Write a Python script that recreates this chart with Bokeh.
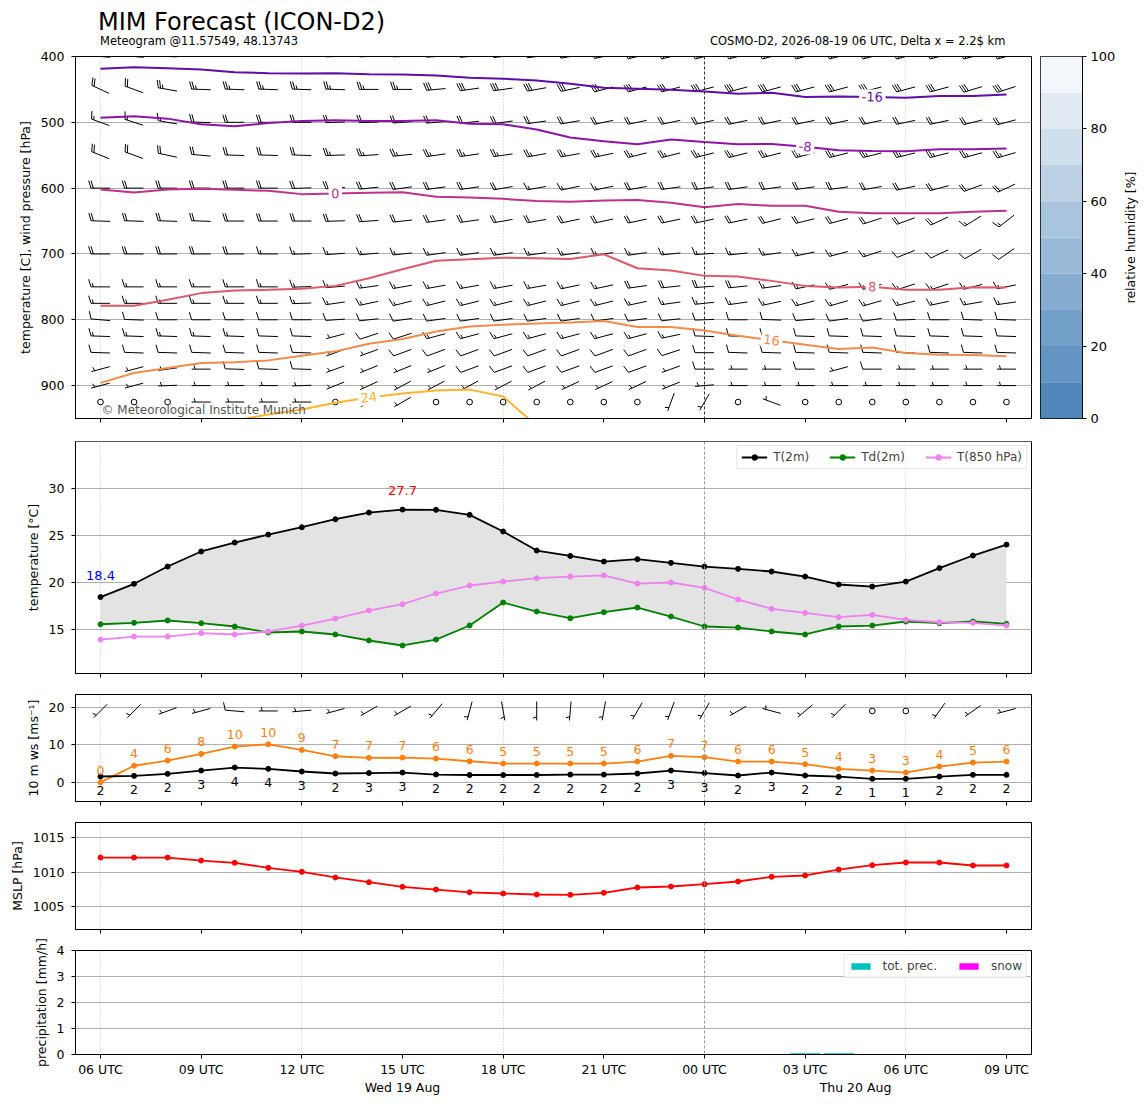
import math
import numpy as np
from bokeh.plotting import figure
from bokeh.layouts import column, row
from bokeh.models import (Range1d, FixedTicker, Div, Legend, LegendItem, LinearAxis,
                          ColumnDataSource, LabelSet, Label, Span)
from bokeh.core.properties import value
from bokeh.embed import file_html
from bokeh.resources import INLINE

FONT = "DejaVu Sans"

# ---------------- data ----------------
hours = [0, 1, 2, 3, 4, 5, 6, 7, 8, 9, 10, 11, 12, 13, 14, 15, 16, 17, 18, 19,
         20, 21, 22, 23, 24, 25, 26, 27]   # hours since 19 Aug 06 UTC
tick_hours = [0, 3, 6, 9, 12, 15, 18, 21, 24, 27]
tick_labels = ["06 UTC", "09 UTC", "12 UTC", "15 UTC", "18 UTC", "21 UTC",
               "00 UTC", "03 UTC", "06 UTC", "09 UTC"]
day_hours = [9, 22.5]
day_labels = ["Wed 19 Aug", "Thu 20 Aug"]
grid_hours = [0, 6, 12, 24]
midnight_hours = [18]

title_text = "MIM Forecast (ICON-D2)"
subtitle_left = "Meteogram @11.57549, 48.13743"
subtitle_right = "COSMO-D2, 2026-08-19 06 UTC, Delta x = 2.2$ km"
copyright_text = "\u00a9 Meteorological Institute Munich"

# isotherms: pressure [hPa] of each temperature level per hour
iso_levels = [-16, -8, 0, 8, 16, 24]
iso_colors = ["#5d0ea8", "#8e14a8", "#bf3288", "#dc5a6a", "#f58b4b", "#fcb52c"]
iso_m16 = [418.6, 416.2, 417.7, 419.7, 423.8, 425.3, 425.8, 425.3, 426.8, 427.3,
           428.8, 432.3, 433.8, 436.4, 441.4, 447.4, 448.9, 450.5, 453.0, 456.5,
           455.0, 461.7, 460.6, 461.4, 462.6, 460.2, 460.2, 457.6]
iso_m8 = [492.9, 490.9, 494.4, 503.0, 506.1, 501.1, 498.0, 497.0, 498.0, 498.0,
          497.0, 502.0, 503.0, 511.0, 523.2, 528.8, 533.3, 526.2, 529.8, 533.3,
          532.9, 537.1, 542.4, 543.5, 543.9, 540.9, 540.9, 539.8]
iso_0 = [602.0, 606.5, 602.0, 601.1, 602.6, 604.1, 609.1, 608.3, 607.1, 606.1,
         613.2, 614.1, 616.2, 619.7, 620.7, 618.9, 618.2, 622.3, 629.2, 624.2,
         626.8, 626.8, 635.9, 638.3, 638.3, 638.3, 635.9, 634.4]
iso_8 = [778.8, 778.8, 769.7, 759.5, 755.6, 754.5, 753.0, 748.5, 736.8, 723.2,
         710.2, 708.0, 705.6, 706.5, 707.6, 700.5, 721.7, 725.3, 733.3, 734.4,
         740.9, 748.5, 751.1, 750.0, 754.5, 754.5, 750.5, 751.1]
iso_16 = [895.9, 880.8, 873.2, 865.6, 864.7, 861.7, 854.5, 848.0, 836.4, 829.2,
          817.7, 810.2, 807.6, 805.6, 804.1, 802.0, 811.1, 811.1, 816.2, 824.2,
          831.1, 837.9, 844.4, 842.0, 850.5, 853.0, 853.5, 855.6]
NaN = float("nan")
iso_24 = [NaN, NaN, NaN, NaN, 953.0, 944.0, 936.4, 926.2, 918.0, 912.0,
          907.6, 906.1, 916.7, 961.0, NaN, NaN, NaN, NaN, NaN, NaN,
          NaN, NaN, NaN, NaN, NaN, NaN, NaN, NaN]
iso_label_hours = [23.0, 21.0, 7.0, 23.0, 20.0, 8.0]

# upper-air wind (barbs): speed [kt], direction [deg]
wind_levels = [400, 450, 500, 550, 600, 650, 700, 750, 775, 800, 825, 850, 875, 900, 925]
spd_400 = [35,35,35,35,35,35,35,35,35,35,35,35,35,35,35,35,35,35,35,35,35,35,35,35,35,35,35,35]
dir_400 = [275,275,272,270,270,270,270,268,268,268,266,265,264,262,260,258,256,255,255,255,255,255,255,255,255,255,255,255]
spd_450 = [20,20,25,25,25,25,25,25,25,25,30,30,30,30,30,30,30,30,30,30,30,30,30,30,30,30,30,30]
dir_450 = [295,290,280,272,272,272,272,272,270,270,265,262,262,260,258,255,255,255,255,255,255,255,255,255,255,255,253,252]
spd_500 = [15,15,15,20,20,20,20,20,20,20,20,20,20,20,20,20,20,20,20,20,20,20,20,20,20,20,20,20]
dir_500 = [290,288,280,272,270,270,270,268,268,266,265,264,262,262,260,258,258,258,258,258,258,258,258,258,258,258,256,255]
spd_550 = [20,20,20,20,20,20,20,25,25,25,25,25,25,25,25,25,25,25,25,25,25,25,25,25,25,25,25,25]
dir_550 = [292,290,282,275,272,272,272,268,266,264,262,262,262,260,260,258,256,256,256,256,256,256,256,256,256,256,255,254]
spd_600 = [20,20,20,20,20,20,20,20,20,20,20,20,20,15,15,15,20,20,20,20,20,20,20,20,20,20,20,20]
dir_600 = [270,270,270,270,270,270,268,266,264,262,262,262,260,260,258,258,260,262,262,262,262,262,262,260,258,255,250,245]
spd_650 = [20,20,20,20,20,20,20,20,20,20,20,20,20,20,20,20,20,20,20,20,20,20,20,20,20,20,15,15]
dir_650 = [272,272,272,272,270,270,270,268,266,264,262,262,260,260,258,258,258,258,258,258,256,256,255,252,250,245,238,232]
spd_700 = [20,20,20,20,20,15,15,15,15,15,15,15,15,15,15,15,15,15,15,15,15,15,15,15,10,10,10,10]
dir_700 = [270,270,270,270,270,270,268,266,265,264,262,262,262,262,262,262,262,264,266,264,262,258,255,252,248,245,240,235]
spd_750 = [15,15,15,15,15,15,15,15,15,15,15,15,15,15,15,15,20,20,20,20,15,15,15,15,15,15,15,15]
dir_750 = [270,270,270,270,270,270,268,265,262,260,260,260,260,260,258,258,262,264,266,264,262,258,255,255,252,252,255,258]
spd_775 = [15,15,15,15,15,15,15,15,15,15,15,15,15,15,15,15,15,15,15,15,15,15,15,15,15,15,15,15]
dir_775 = [270,270,270,270,270,270,268,262,258,256,256,256,256,256,256,256,258,262,264,262,258,255,254,254,256,258,260,262]
spd_800 = [10,10,10,10,10,10,10,10,10,10,10,10,10,10,10,10,10,10,10,10,10,10,10,10,10,10,10,10]
dir_800 = [275,272,270,270,270,270,270,266,264,262,262,262,262,262,262,262,262,264,268,270,272,265,262,262,268,270,272,272]
spd_825 = [15,15,15,15,15,10,10,5,10,10,15,15,15,15,15,15,15,15,10,10,10,10,10,10,10,10,10,10]
dir_825 = [272,272,272,272,272,272,272,255,252,252,255,255,255,255,255,255,255,258,272,272,272,272,272,272,272,272,272,272]
spd_850 = [10,10,10,10,10,10,10,5,5,10,10,10,10,10,10,10,10,10,10,10,10,10,10,10,10,10,10,10]
dir_850 = [272,272,272,272,272,272,272,250,250,250,250,250,250,250,250,250,250,252,270,272,272,272,272,272,272,272,272,272]
spd_875 = [5,5,5,5,10,10,10,5,5,5,5,10,10,10,10,10,10,5,10,5,5,10,5,10,5,5,5,5]
dir_875 = [255,255,262,270,272,272,272,250,248,248,248,250,250,250,250,250,250,250,270,270,270,270,255,270,270,270,270,270]
spd_900 = [5,5,5,5,5,5,5,5,5,5,5,5,5,5,5,5,5,5,5,5,5,5,5,5,5,5,5,5]
dir_900 = [255,255,268,270,270,270,268,248,245,242,242,242,242,242,245,245,245,248,265,270,270,270,270,270,270,270,270,270]
spd_925 = [0,0,0,5,5,5,5,0,5,5,0,0,0,0,0,0,0,5,5,0,5,0,0,0,0,0,0,0]
dir_925 = [270,270,270,270,270,270,270,270,240,240,270,270,270,270,270,270,270,200,210,270,290,270,270,270,270,270,270,270]
wind_spd = [spd_400, spd_450, spd_500, spd_550, spd_600, spd_650, spd_700, spd_750,
            spd_775, spd_800, spd_825, spd_850, spd_875, spd_900, spd_925]
wind_dir = [dir_400, dir_450, dir_500, dir_550, dir_600, dir_650, dir_700, dir_750,
            dir_775, dir_800, dir_825, dir_850, dir_875, dir_900, dir_925]

# relative humidity colour scale
rh_levels = [0, 10, 20, 30, 40, 50, 60, 70, 80, 90, 100]
rh_ticks = [0, 20, 40, 60, 80, 100]
rh_colors = ["#5087bb", "#6394c2", "#72a0c8", "#86acd0", "#98b9d7",
             "#a9c5de", "#bdd1e4", "#d0dfec", "#e1e9f2", "#f3f7fb"]

# 2 m temperatures
t2m = [18.42, 19.83, 21.67, 23.27, 24.22, 25.07, 25.85, 26.70, 27.41, 27.73,
       27.70, 27.17, 25.40, 23.37, 22.80, 22.20, 22.45, 22.06, 21.67, 21.42,
       21.14, 20.60, 19.76, 19.54, 20.07, 21.50, 22.84, 24.00]
td2m = [15.53, 15.68, 15.93, 15.64, 15.29, 14.65, 14.76, 14.44, 13.80, 13.27,
        13.90, 15.40, 17.84, 16.88, 16.17, 16.81, 17.31, 16.35, 15.29, 15.18,
        14.76, 14.44, 15.29, 15.39, 15.82, 15.64, 15.82, 15.57]
t850 = [13.90, 14.22, 14.22, 14.58, 14.44, 14.76, 15.39, 16.14, 16.99, 17.66,
        18.80, 19.65, 20.07, 20.43, 20.60, 20.72, 19.86, 19.97, 19.40, 18.16,
        17.17, 16.74, 16.28, 16.53, 16.00, 15.74, 15.68, 15.39]

# 10 m wind
ws10 = [1.60, 1.77, 2.30, 3.18, 3.98, 3.63, 2.92, 2.39, 2.52, 2.65,
        2.12, 2.00, 2.00, 2.00, 2.10, 2.10, 2.39, 3.18, 2.52, 1.86,
        2.65, 1.86, 1.55, 0.98, 0.98, 1.59, 2.04, 2.04]
gust10 = [0.05, 4.45, 5.84, 7.60, 9.55, 10.15, 8.66, 6.97, 6.55, 6.63,
          6.37, 5.65, 5.04, 5.04, 5.04, 5.04, 5.57, 7.08, 6.72, 5.57,
          5.57, 4.86, 3.63, 3.18, 2.65, 4.24, 5.30, 5.57]
dir10 = [225, 225, 250, 255, 275, 270, 265, 255, 240, 240, 220, 195, 170, 180,
         185, 190, 210, 200, 210, 240, 285, 230, 225, 225, 225, 215, 235, 255]

# MSLP
mslp = [1012.14, 1012.14, 1012.14, 1011.70, 1011.38, 1010.65, 1010.07, 1009.25,
        1008.57, 1007.90, 1007.50, 1007.10, 1006.93, 1006.78, 1006.74, 1007.03,
        1007.80, 1007.94, 1008.28, 1008.67, 1009.35, 1009.54, 1010.40, 1011.03,
        1011.42, 1011.42, 1010.99, 1010.99]

# precipitation
tot_prec = [0, 0, 0, 0, 0, 0, 0, 0, 0, 0, 0, 0, 0, 0, 0, 0, 0, 0, 0, 0,
            0, 0.05, 0.05, 0, 0, 0, 0, 0]
snow = [0, 0, 0, 0, 0, 0, 0, 0, 0, 0, 0, 0, 0, 0, 0, 0, 0, 0, 0, 0,
        0, 0, 0, 0, 0, 0, 0, 0]

# ---------------- layout constants ----------------
FRAME_W = 956
X0, X1 = -0.745, 27.745
PPX = FRAME_W / (X1 - X0)          # px per hour
FH1 = 362
P_TOP, P_BOT = 400, 950
PPY1 = FH1 / (P_BOT - P_TOP)        # px per hPa
FH3 = 107
WS_LO, WS_HI = -5.04, 23.37
PPY3 = FH3 / (WS_HI - WS_LO)
BARB_L = 19.0
BARB_Y10 = 19.0
LEFT = 75
FIG_W = 1040

xr = Range1d(X0, X1)


def make_fig(height, y_range, top, bottom, width=FIG_W, right=9, left=LEFT, **kw):
    p = figure(width=width, height=height, x_range=xr, y_range=y_range,
               toolbar_location=None, output_backend="svg",
               min_border_left=left, min_border_right=right,
               min_border_top=top, min_border_bottom=bottom, **kw)
    p.outline_line_color = "black"
    p.outline_line_alpha = 1.0
    p.outline_line_width = 1
    return p


def style_axis(ax):
    ax.axis_line_color = "black"
    ax.major_tick_in = 0
    ax.major_tick_out = 4
    ax.major_tick_line_color = "black"
    ax.minor_tick_line_color = None
    ax.major_label_text_font = FONT
    ax.major_label_text_font_size = "12.5px"
    ax.major_label_text_color = "black"
    ax.axis_label_text_font = FONT
    ax.axis_label_text_font_size = "12.5px"
    ax.axis_label_text_font_style = "normal"
    ax.axis_label_text_color = "black"


def style(p, yticks, ylabel, show_xlabels=False, midnight_color="#999999"):
    p.xaxis.ticker = FixedTicker(ticks=tick_hours)
    p.xaxis.major_label_overrides = {h: l for h, l in zip(tick_hours, tick_labels)}
    p.yaxis.ticker = FixedTicker(ticks=yticks)
    p.yaxis.axis_label = ylabel
    for ax in p.axis:
        style_axis(ax)
    p.yaxis.major_label_standoff = 7
    p.yaxis.axis_label_standoff = 5
    p.xaxis.major_label_standoff = 3
    if not show_xlabels:
        p.xaxis.major_label_text_color = None
        p.xaxis.major_label_text_font_size = "1px"
        p.xaxis.major_label_standoff = 0
    p.xgrid.ticker = FixedTicker(ticks=grid_hours)
    p.xgrid.grid_line_color = "#c4c4c4"
    p.xgrid.grid_line_dash = "1 2"
    p.xgrid.grid_line_width = 1
    p.ygrid.grid_line_color = "#b0b0b0"
    p.ygrid.grid_line_width = 1
    for h in midnight_hours:
        p.add_layout(Span(location=h, dimension="height", line_color=midnight_color,
                          line_dash="3 2", line_width=1))


def barbs(xh, yv, spd, dirs, ppx, ppy, yflip):
    xs, ys, cx, cy = [], [], [], []
    sp, hgt, wid = 0.125 * BARB_L, 0.4 * BARB_L, 0.25 * BARB_L
    for x0, y0, s, d in zip(xh, yv, spd, dirs):
        mag = 5 * int(math.floor(s / 5.0 + 0.5))
        if mag < 5:
            cx.append(x0)
            cy.append(y0)
            continue
        r = math.radians(d)
        sx, sy = math.sin(r), math.cos(r)     # toward the upwind end (screen, y up)
        nx, ny = sy, -sx                      # feather side

        def conv(px, py, x0=x0, y0=y0):
            return x0 + px / ppx, y0 + (-py if yflip else py) / ppy

        ex, ey = sx * BARB_L / 2, sy * BARB_L / 2
        tx, ty = -ex, -ey
        a, b = conv(tx, ty), conv(ex, ey)
        xs.append([a[0], b[0]])
        ys.append([a[1], b[1]])
        nflag = mag // 50
        rem = mag % 50
        nfull = rem // 10
        half = (rem % 10) >= 5
        off = 0.0
        for _ in range(nflag):
            bx, by = ex - sx * off, ey - sy * off
            fx, fy = bx + nx * hgt - sx * wid / 2, by + ny * hgt - sy * wid / 2
            cx2, cy2 = bx - sx * wid, by - sy * wid
            pts = [conv(bx, by), conv(fx, fy), conv(cx2, cy2)]
            xs.append([q[0] for q in pts])
            ys.append([q[1] for q in pts])
            off += wid + sp
        for _ in range(nfull):
            bx, by = ex - sx * off, ey - sy * off
            fx, fy = bx + nx * hgt + sx * wid / 2, by + ny * hgt + sy * wid / 2
            pa, pb = conv(bx, by), conv(fx, fy)
            xs.append([pa[0], pb[0]])
            ys.append([pa[1], pb[1]])
            off += sp
        if half:
            if off == 0.0:
                off += 1.5 * sp
            bx, by = ex - sx * off, ey - sy * off
            fx, fy = bx + nx * hgt / 2 + sx * wid / 4, by + ny * hgt / 2 + sy * wid / 4
            pa, pb = conv(bx, by), conv(fx, fy)
            xs.append([pa[0], pb[0]])
            ys.append([pa[1], pb[1]])
    return xs, ys, cx, cy


# ---------------- title ----------------
title_html = (
    "<div style=\"position:relative;width:1140px;height:48px;"
    "font-family:'DejaVu Sans',sans-serif;color:black;\">"
    "<div style=\"position:absolute;left:98px;top:10px;font-size:24px;line-height:24px;white-space:nowrap;\">"
    + title_text + "</div>"
    "<div style=\"position:absolute;left:100px;top:35px;font-size:11.5px;line-height:13px;white-space:nowrap;\">"
    + subtitle_left + "</div>"
    "<div style=\"position:absolute;left:710px;top:35px;font-size:11.5px;line-height:13px;white-space:nowrap;\">"
    + subtitle_right + "</div></div>")
title_div = Div(text=title_html, width=1140, height=48, margin=(0, 0, 0, 0))

# ---------------- panel 1: upper air ----------------
p1 = make_fig(382, Range1d(P_BOT, P_TOP), 8, 12)
style(p1, [400, 500, 600, 700, 800, 900], "temperature [C], wind pressure [hPa]",
      midnight_color="#333333")

bxs, bys, bcx, bcy = [], [], [], []
for lev, sp_l, dr_l in zip(wind_levels, wind_spd, wind_dir):
    xs, ys, cx, cy = barbs(hours, [lev] * len(hours), sp_l, dr_l, PPX, PPY1, True)
    bxs += xs
    bys += ys
    bcx += cx
    bcy += cy
p1.multi_line(bxs, bys, line_color="black", line_width=1)
p1.scatter(bcx, bcy, marker="circle", size=5.7, fill_color=None,
           line_color="black", line_width=1)

iso_lines = [iso_m16, iso_m8, iso_0, iso_8, iso_16, iso_24]
lab_x, lab_y, lab_t, lab_c, lab_a = [], [], [], [], []
for lev, col, arr, lh in zip(iso_levels, iso_colors, iso_lines, iso_label_hours):
    p1.line(hours, arr, line_color=col, line_width=2)
    a = np.array(arr, dtype=float)
    h = np.array(hours, dtype=float)
    m = ~np.isnan(a)
    py = float(np.interp(lh, h[m], a[m]))
    dp = float(np.interp(lh + 0.5, h[m], a[m]) - np.interp(lh - 0.5, h[m], a[m]))
    ang = math.atan2(-dp * PPY1, PPX)
    lab_x.append(lh)
    lab_y.append(py)
    lab_t.append("\u2009%d\u2009" % lev)
    lab_c.append(col)
    lab_a.append(ang)
iso_src = ColumnDataSource(dict(x=lab_x, y=lab_y, text=lab_t, color=lab_c, angle=lab_a))
p1.add_layout(LabelSet(x="x", y="y", text="text", source=iso_src, text_color="color",
                       angle="angle", text_align="center", text_baseline="middle",
                       text_font=value(FONT), text_font_size=value("13px"),
                       background_fill_color="white"))
p1.add_layout(Label(x=26, y=2, x_units="screen", y_units="screen", text=copyright_text,
                    text_font=FONT, text_font_size="12px", text_color="#555555",
                    text_baseline="bottom"))

# colour bar as its own small plot
cb = figure(width=78, height=382, x_range=Range1d(0, 1), y_range=Range1d(0, 100),
            toolbar_location=None, output_backend="svg", y_axis_location="right",
            min_border_left=0, min_border_right=36, min_border_top=8, min_border_bottom=12)
cb.quad(left=0, right=1, bottom=rh_levels[:-1], top=rh_levels[1:],
        fill_color=rh_colors, line_color=None)
cb.xaxis.visible = False
cb.grid.visible = False
cb.outline_line_color = "black"
cb.outline_line_alpha = 1.0
cb.yaxis.ticker = FixedTicker(ticks=rh_ticks)
style_axis(cb.yaxis[0])
cb.yaxis.major_label_text_font_size = "13px"
cb.yaxis.major_label_standoff = 4

# rotated colour-bar title in a narrow strip
cbl = figure(width=24, height=382, x_range=Range1d(0, 1), y_range=Range1d(0, 1),
             toolbar_location=None, output_backend="svg",
             min_border_left=0, min_border_right=0, min_border_top=8, min_border_bottom=12)
cbl.axis.visible = False
cbl.grid.visible = False
cbl.outline_line_color = None
cbl.add_layout(Label(x=0.5, y=0.5, text="relative humidity [%]", angle=math.pi / 2,
                     text_align="center", text_baseline="middle", text_font=FONT,
                     text_font_size="12.5px", text_color="black"))

# ---------------- panel 2: 2 m temperature ----------------
p2 = make_fig(253, Range1d(10.29, 34.97), 11, 10)
style(p2, [15, 20, 25, 30, 35], "temperature [\u00b0C]")
p2.varea(x=hours, y1=td2m, y2=t2m, fill_color="#e3e3e3")
l1 = p2.line(hours, t2m, line_color="black", line_width=1.8)
s1 = p2.scatter(hours, t2m, size=5, color="black")
l2 = p2.line(hours, td2m, line_color="green", line_width=1.8)
s2 = p2.scatter(hours, td2m, size=5, color="green")
l3 = p2.line(hours, t850, line_color="violet", line_width=1.8)
s3 = p2.scatter(hours, t850, size=5, color="violet")
imin, imax = int(np.argmin(t2m)), int(np.argmax(t2m))
p2.add_layout(Label(x=hours[imin], y=t2m[imin], y_offset=22, text="%.1f" % t2m[imin],
                    text_color="blue", text_align="center", text_baseline="middle",
                    text_font=FONT, text_font_size="13px"))
p2.add_layout(Label(x=hours[imax], y=t2m[imax], y_offset=19, text="%.1f" % t2m[imax],
                    text_color="red", text_align="center", text_baseline="middle",
                    text_font=FONT, text_font_size="13px"))
leg2 = Legend(items=[LegendItem(label="T(2m)", renderers=[l1, s1]),
                     LegendItem(label="Td(2m)", renderers=[l2, s2]),
                     LegendItem(label="T(850 hPa)", renderers=[l3, s3])],
              orientation="horizontal", location="top_right")
leg2.margin = 4
leg2.padding = 4
leg2.spacing = 20
leg2.glyph_width = 26
leg2.glyph_height = 14
leg2.label_height = 14
leg2.label_standoff = 6
leg2.label_text_font = FONT
leg2.label_text_font_size = "12px"
leg2.border_line_color = "#cccccc"
leg2.background_fill_alpha = 0.85
p2.add_layout(leg2)

# ---------------- panel 3: 10 m wind ----------------
p3 = make_fig(128, Range1d(WS_LO, WS_HI), 11, 10)
style(p3, [0, 10, 20], "10 m ws [ms\u207b\u00b9]")
p3.line(hours, gust10, line_color="#ff7f0e", line_width=1.8)
p3.scatter(hours, gust10, size=5, color="#ff7f0e")
p3.line(hours, ws10, line_color="black", line_width=1.8)
p3.scatter(hours, ws10, size=5, color="black")
g_src = ColumnDataSource(dict(x=hours, y=gust10,
                              t=[str(int(math.floor(v + 0.5))) for v in gust10]))
w_src = ColumnDataSource(dict(x=hours, y=ws10,
                              t=[str(int(math.floor(v + 0.5))) for v in ws10]))
p3.add_layout(LabelSet(x="x", y="y", text="t", source=g_src, y_offset=12,
                       text_color="#ff7f0e", text_align="center", text_baseline="middle",
                       text_font=value(FONT), text_font_size=value("12.5px")))
p3.add_layout(LabelSet(x="x", y="y", text="t", source=w_src, y_offset=-14,
                       text_color="black", text_align="center", text_baseline="middle",
                       text_font=value(FONT), text_font_size=value("12.5px")))
kt10 = [v * 1.944 for v in ws10]
xs, ys, cx, cy = barbs(hours, [BARB_Y10] * len(hours), kt10, dir10, PPX, PPY3, False)
p3.multi_line(xs, ys, line_color="black", line_width=1)
p3.scatter(cx, cy, marker="circle", size=5.7, fill_color=None, line_color="black",
           line_width=1)

# ---------------- panel 4: MSLP ----------------
p4 = make_fig(128, Range1d(1001.71, 1017.22), 11, 10)
style(p4, [1005, 1010, 1015], "MSLP [hPa]")
p4.line(hours, mslp, line_color="red", line_width=1.8)
p4.scatter(hours, mslp, size=5, color="red")

# ---------------- panel 5: precipitation ----------------
p5 = make_fig(158, Range1d(0, 4), 11, 40)
style(p5, [0, 1, 2, 3, 4], "precipitation [mm/h]", show_xlabels=True)
r_prec = p5.vbar(x=hours, top=tot_prec, width=0.9, fill_color="#00bfbf", line_color=None)
r_snow = p5.vbar(x=hours, top=snow, width=0.9, fill_color="#ff00ff", line_color=None)
leg5 = Legend(items=[LegendItem(label="tot. prec.", renderers=[r_prec]),
                     LegendItem(label="snow", renderers=[r_snow])],
              orientation="horizontal", location="top_right")
leg5.margin = 4
leg5.padding = 4
leg5.spacing = 20
leg5.glyph_width = 24
leg5.glyph_height = 8
leg5.label_height = 14
leg5.label_standoff = 10
leg5.label_text_font = FONT
leg5.label_text_font_size = "12px"
leg5.border_line_color = "#cccccc"
leg5.background_fill_alpha = 0.85
p5.add_layout(leg5)
day_axis = LinearAxis(ticker=FixedTicker(ticks=day_hours),
                      major_label_overrides={h: l for h, l in zip(day_hours, day_labels)})
style_axis(day_axis)
day_axis.axis_line_color = None
day_axis.major_tick_line_color = None
day_axis.major_tick_out = 0
day_axis.major_label_standoff = 0
p5.add_layout(day_axis, "below")

layout = column(title_div, row(p1, cb, cbl), p2, p3, p4, p5)
open("out.html", "w").write(file_html(layout, INLINE, "MIM Forecast (ICON-D2)"))
